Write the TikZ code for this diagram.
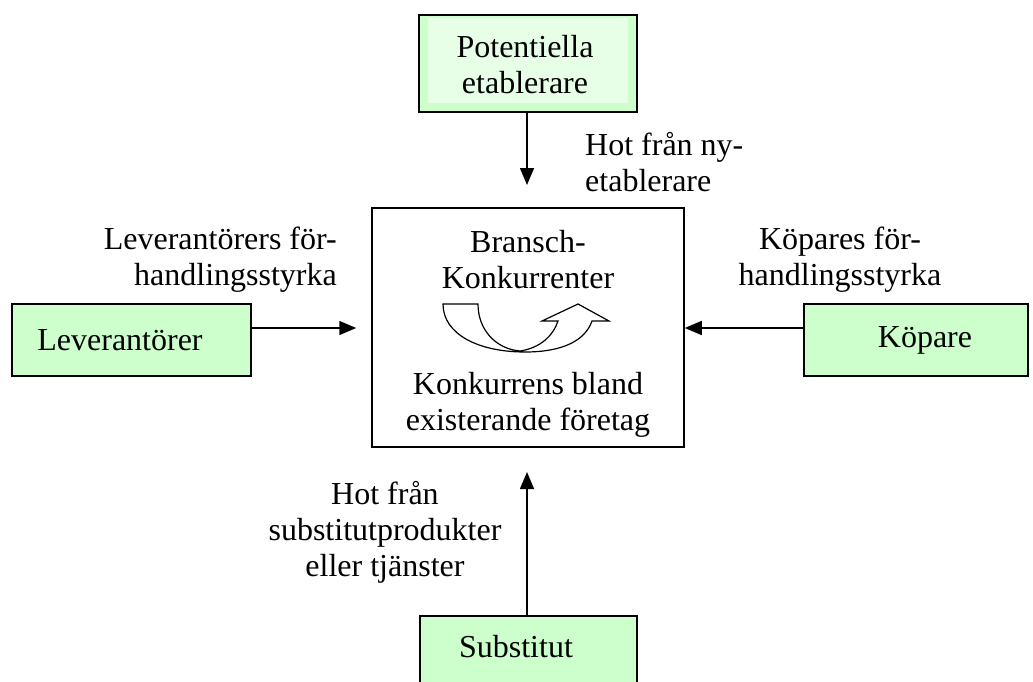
\documentclass[tikz,border=0pt]{standalone}
\usepackage{fontspec}
\setmainfont{Liberation Serif}
\usetikzlibrary{arrows.meta}

\definecolor{boxgreen}{HTML}{CCFFCC}
\definecolor{boxpale}{HTML}{E6FFE6}

\tikzset{
  txt/.style={font=\fontsize{32pt}{36pt}\selectfont, inner sep=0pt},
  greenbox/.style={draw=black, line width=1.5pt, fill=boxgreen, inner sep=0pt},
  mainbox/.style={draw=black, line width=1.5pt, fill=white, inner sep=0pt},
  force/.style={line width=1.5pt, -{Triangle[length=17pt,width=14pt]}},
  shading3d/.style={path picture={
      \fill[boxpale] ([xshift=9pt,yshift=-3pt]path picture bounding box.north west)
        rectangle ([xshift=-9pt,yshift=9pt]path picture bounding box.south east);}},
}

\begin{document}
\begin{tikzpicture}[x=1pt,y=-1pt]
  \useasboundingbox (0,0) rectangle (1033,682);
  \clip (0,0) rectangle (1033,682);

  % the five boxes
  \node[greenbox, shading3d, minimum width=218pt, minimum height=97pt] (entrant) at (528,63.5) {};
  \node[greenbox, minimum width=239pt, minimum height=72pt] (supplier) at (131.5,340) {};
  \node[greenbox, minimum width=224pt, minimum height=72pt] (buyer) at (916,340) {};
  \node[greenbox, minimum width=217pt, minimum height=90pt] (subst) at (528.5,661) {};
  \node[mainbox, minimum width=312pt, minimum height=239pt] (rivalry) at (528,327.5) {};

  % box texts
  \node[txt, align=center] (entranttxt) at (525,65) {Potentiella\\etablerare};
  \node[txt] (suppliertxt) at (120,340) {Leverantörer};
  \node[txt] (buyertxt) at (925,340) {Köpare};
  \node[txt] (substtxt) at (516,647) {Substitut};
  \node[txt, align=center] (rivaltop) at (528,260) {Bransch-\\Konkurrenter};
  \node[txt, align=center] (rivalbot) at (528,405) {Konkurrens bland\\existerande företag};

  % force labels
  \node[txt, align=left, anchor=west] (entrantlbl) at (585,162) {Hot från ny-\\etablerare};
  \node[txt, align=right, anchor=east] (supplierlbl) at (337,260) {Leverantörers för-\\handlingsstyrka};
  \node[txt, align=center] (buyerlbl) at (840,260) {Köpares för-\\handlingsstyrka};
  \node[txt, align=center] (substlbl) at (385,532) {Hot från\\substitutprodukter\\eller tjänster};

  % force arrows
  \coordinate (topin) at (527,185);
  \coordinate (botin) at (527,472);
  \draw[force] (entrant.south -| topin) -- (topin);
  \draw[force] (subst.north -| botin) -- (botin);
  \draw[force] ([yshift=12pt]supplier.east) -- ([xshift=-15pt,yshift=12pt]supplier.east -| rivalry.west);
  \draw[force] ([yshift=12pt]buyer.west) -- ([yshift=12pt]buyer.west -| rivalry.east);

  % curved arrow of rivalry
  \draw[line width=1.2pt, fill=white, line join=miter]
    (443,304) -- (478,304)
    .. controls (478,330) and (496,349) .. (520,351)
    .. controls (540,348) and (553,336) .. (558,321)
    -- (542,321) -- (578,304) -- (609,321) -- (592,321)
    .. controls (585,341) and (562,352) .. (525,352)
    .. controls (478,352) and (443,334) .. cycle;
\end{tikzpicture}
\end{document}
